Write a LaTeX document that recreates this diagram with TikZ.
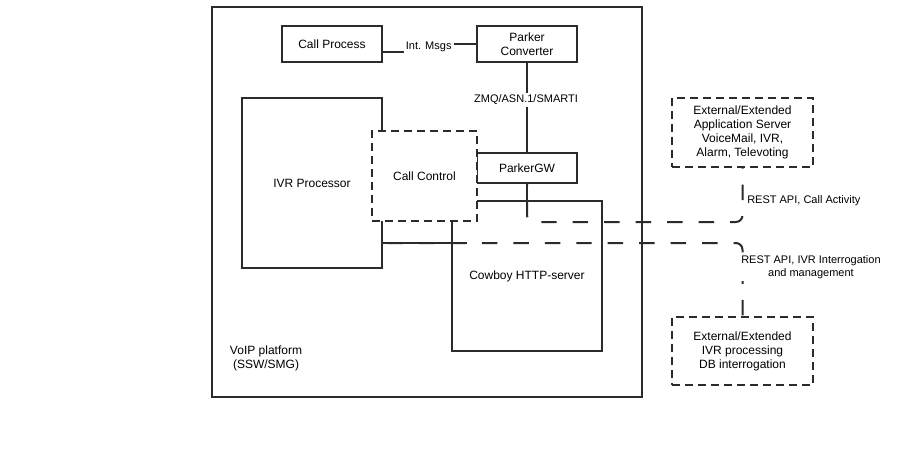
\documentclass[tikz,border=0pt]{standalone}
\usepackage{fontspec}
\setmainfont{Liberation Sans}
\definecolor{ln}{HTML}{2B2B2B}
\begin{document}
\begin{tikzpicture}[x=0.75pt,y=-0.75pt,
  every node/.style={font=\fontsize{9}{10.5}\selectfont, text=black},
  box/.style={draw=ln, line width=1.5pt, rectangle, inner sep=0pt, align=center, fill=white},
  dbox/.style={box, dash pattern=on 6pt off 3.75pt},
  conn/.style={draw=ln, line width=1.5pt},
  bigdash/.style={conn, dash pattern=on 11.6pt off 12pt, rounded corners=5pt},
  elabel/.style={font=\fontsize{8.25}{9.9}\selectfont, fill=white, inner sep=1.5pt, align=center}]
\useasboundingbox (0,0) rectangle (901,467);
\fill[white] (0,0) rectangle (901,467);

% outer platform box
\node[box, fill=none, minimum width=322.5pt, minimum height=292.5pt] (plat) at (427,202) {};
\node[align=center] (platlbl) at (266,358) {VoIP platform\\(SSW/SMG)};

% inner boxes
\node[box, minimum width=75pt, minimum height=27pt] (cp) at (332,44) {Call Process};
\node[box, minimum width=75pt, minimum height=27pt] (pc) at (527,44) {Parker\\Converter};
\node[box, minimum width=75pt, minimum height=22.5pt] (gw) at (527,168) {ParkerGW};
\node[box, minimum width=105pt, minimum height=127.5pt] (ivr) at (312,183) {IVR Processor};
\node[box, minimum width=112.5pt, minimum height=112.5pt] (cow) at (527,276) {Cowboy HTTP-server};
\node[dbox, minimum width=78.75pt, minimum height=67.5pt] (cc) at (424.5,176) {Call Control};

% external boxes
\node[dbox, minimum width=105.75pt, minimum height=51.75pt] (ext1) at (742.5,132.5)
  {External/Extended\\Application Server\\VoiceMail, IVR,\\Alarm, Televoting};
\node[dbox, minimum width=105.75pt, minimum height=51pt] (ext2) at (742.5,351)
  {External/Extended\\IVR processing\\DB interrogation};

% Call Process -- Parker Converter
\coordinate (m1) at (428.7,47);
\draw[conn] ([yshift=-6pt]cp.east) -| (m1) |- (pc.west);
\node[elabel] (msgs) at (m1) {Int. Msgs};

% Parker Converter -- ParkerGW
\draw[conn] (pc.south) -- (gw.north);
\node[elabel] (zmq) at (526,100) {ZMQ/ASN.1/SMARTI};

% ParkerGW -- External Application Server
\coordinate (k1) at (742.5,222);
\coordinate (s1) at (527,216);
\draw[bigdash, dash phase=10.2pt] (gw.south) |- (k1) -- (ext1.south);
\draw[conn] (gw.south) -- (s1);
\node[anchor=west, font=\fontsize{8.25}{9.9}\selectfont, inner sep=0pt] (lbl1) at (747,201) {REST API, Call Activity};

% IVR Processor -- External IVR processing
\coordinate (k2) at (742.5,243);
\coordinate (s2) at (467,243);
\draw[bigdash, dash phase=20.25pt] (ivr.east |- k2) -- (k2) -- (ext2.north);
\draw[conn] (ivr.east |- k2) -- (s2);
\node[elabel, anchor=west] (lbl2) at (739,267) {REST API, IVR Interrogation\\and management};
\end{tikzpicture}
\end{document}
